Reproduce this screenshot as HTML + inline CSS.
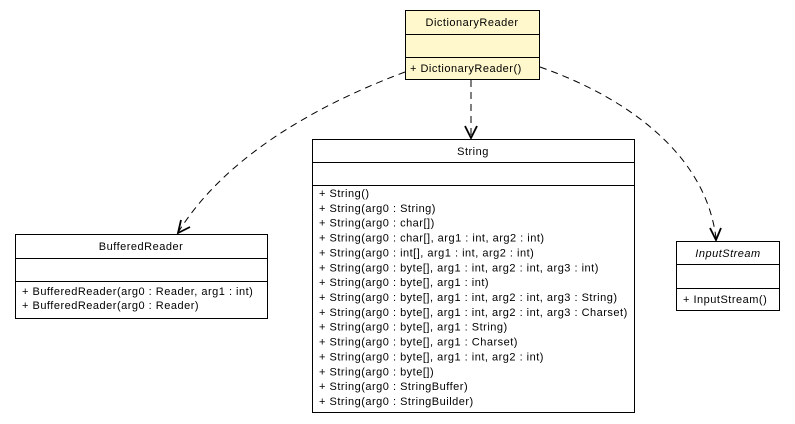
<!DOCTYPE html>
<html><head><style>
html,body{margin:0;padding:0;background:#fff;}
svg{display:block;}
text{font-family:"Liberation Sans",Arial,sans-serif;font-size:11px;letter-spacing:0.5px;fill:#000;}
</style></head><body>
<svg width="795" height="424" viewBox="0 0 795 424" xmlns="http://www.w3.org/2000/svg">
<g fill="none" stroke="#000" stroke-width="1" stroke-dasharray="7,5">
<path d="M405,72 C330,100 230,150 179,231"/>
<path d="M471,80 L471,136"/>
<path d="M540,67 C620,95 705,150 716,238"/>
</g>
<g fill="none" stroke="#000" stroke-width="1.8">
<polyline points="181,220 178,233 190,227"/>
<polyline points="465,126 471,138 477,126"/>
<polyline points="710,228 716,240 721,228"/>
</g>
<!-- DictionaryReader -->
<rect x="405.5" y="10.5" width="134" height="69" fill="#fff8cc" stroke="#000"/>
<line x1="405" y1="34.5" x2="540" y2="34.5" stroke="#000"/>
<line x1="405" y1="57.5" x2="540" y2="57.5" stroke="#000"/>
<text x="472" y="26" text-anchor="middle">DictionaryReader</text>
<text x="410" y="72">+ DictionaryReader()</text>
<!-- String -->
<rect x="312.5" y="139.5" width="322" height="273" fill="#fff" stroke="#000"/>
<line x1="312" y1="162.5" x2="635" y2="162.5" stroke="#000"/>
<line x1="312" y1="185.5" x2="635" y2="185.5" stroke="#000"/>
<text x="473" y="155" text-anchor="middle">String</text>
<g>
<text x="319" y="197">+ String()</text>
<text x="319" y="211.9">+ String(arg0 : String)</text>
<text x="319" y="226.7">+ String(arg0 : char[])</text>
<text x="319" y="241.6">+ String(arg0 : char[], arg1 : int, arg2 : int)</text>
<text x="319" y="256.4">+ String(arg0 : int[], arg1 : int, arg2 : int)</text>
<text x="319" y="271.3">+ String(arg0 : byte[], arg1 : int, arg2 : int, arg3 : int)</text>
<text x="319" y="286.1">+ String(arg0 : byte[], arg1 : int)</text>
<text x="319" y="301">+ String(arg0 : byte[], arg1 : int, arg2 : int, arg3 : String)</text>
<text x="319" y="315.9">+ String(arg0 : byte[], arg1 : int, arg2 : int, arg3 : Charset)</text>
<text x="319" y="330.7">+ String(arg0 : byte[], arg1 : String)</text>
<text x="319" y="345.6">+ String(arg0 : byte[], arg1 : Charset)</text>
<text x="319" y="360.4">+ String(arg0 : byte[], arg1 : int, arg2 : int)</text>
<text x="319" y="375.3">+ String(arg0 : byte[])</text>
<text x="319" y="390.1">+ String(arg0 : StringBuffer)</text>
<text x="319" y="405">+ String(arg0 : StringBuilder)</text>
</g>
<!-- BufferedReader -->
<rect x="15.5" y="234.5" width="252" height="84" fill="#fff" stroke="#000"/>
<line x1="15" y1="258.5" x2="268" y2="258.5" stroke="#000"/>
<line x1="15" y1="281.5" x2="268" y2="281.5" stroke="#000"/>
<text x="141" y="250" text-anchor="middle">BufferedReader</text>
<text x="22" y="295">+ BufferedReader(arg0 : Reader, arg1 : int)</text>
<text x="22" y="309">+ BufferedReader(arg0 : Reader)</text>
<!-- InputStream -->
<rect x="676.5" y="241.5" width="103" height="69" fill="#fff" stroke="#000"/>
<line x1="676" y1="264.5" x2="780" y2="264.5" stroke="#000"/>
<line x1="676" y1="288.5" x2="780" y2="288.5" stroke="#000"/>
<text x="728" y="257" text-anchor="middle" font-style="italic">InputStream</text>
<text x="683" y="303">+ InputStream()</text>
</svg>
</body></html>
